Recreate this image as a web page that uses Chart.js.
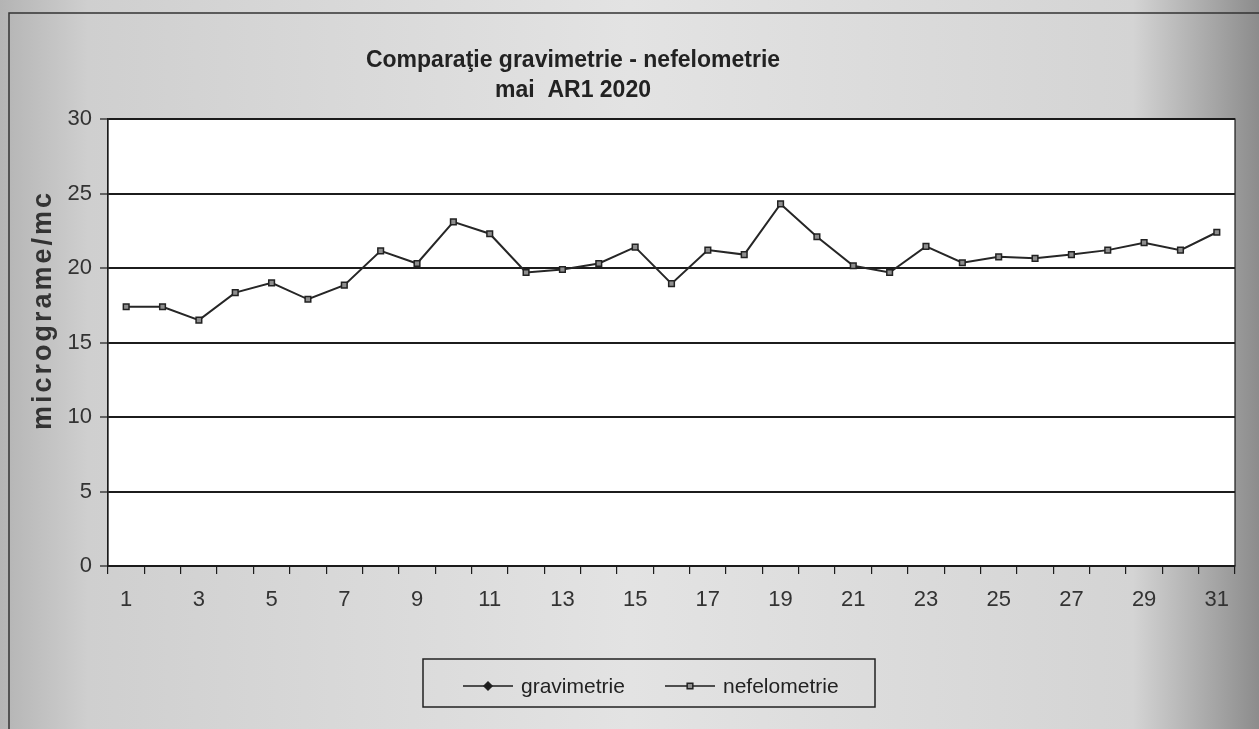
<!DOCTYPE html>
<html>
<head>
<meta charset="utf-8">
<script src="https://cdn.jsdelivr.net/npm/chart.js@4/dist/chart.umd.min.js"></script>
<style>
  html, body { margin: 0; padding: 0; background: #e6e6e6; }
  #wrap { width: 1259px; height: 729px; }
</style>
</head>
<body>
<div id="wrap"><canvas id="chart" width="1259" height="729"></canvas></div>
<script>
// data
const days = ['1','2','3','4','5','6','7','8','9','10','11','12','13','14','15','16',
              '17','18','19','20','21','22','23','24','25','26','27','28','29','30','31'];
const gravimetrie = [];
const nefelometrie = [17.4, 17.4, 16.5, 18.35, 19.0, 17.9, 18.85, 21.15, 20.3, 23.1, 22.3,
                      19.7, 19.9, 20.3, 21.4, 18.95, 21.2, 20.9, 24.3, 22.1, 20.15, 19.7,
                      21.45, 20.35, 20.75, 20.65, 20.9, 21.2, 21.7, 21.2, 22.4];
const titleLines = ['Comparaţie gravimetrie - nefelometrie', 'mai  AR1 2020'];
const yTitle = 'micrograme/mc';

const ink = '#1c1c1c';
const font = '"Liberation Sans", Arial, sans-serif';

// page look: grey scanned backdrop, white plot area, frame, title, legend
const backdrop = {
    id: 'backdrop',
    beforeDraw(chart) {
        const { ctx, width, height, chartArea: a } = chart;
        ctx.save();
        const g = ctx.createLinearGradient(0, 0, width, 0);
        g.addColorStop(0, '#b4b4b4');
        g.addColorStop(0.07, '#cfcfcf');
        g.addColorStop(0.5, '#e3e3e3');
        g.addColorStop(0.9, '#d4d4d4');
        g.addColorStop(1, '#8c8c8c');
        ctx.fillStyle = g;
        ctx.fillRect(0, 0, width, height);
        ctx.strokeStyle = '#333';
        ctx.lineWidth = 1.5;
        ctx.strokeRect(9, 13, width + 20, height + 20);
        ctx.fillStyle = '#ffffff';
        ctx.fillRect(a.left, a.top, a.right - a.left, a.bottom - a.top);
        ctx.restore();
    },
    afterDraw(chart) {
        const { ctx, chartArea: a } = chart;
        ctx.save();
        ctx.strokeStyle = ink;
        ctx.lineWidth = 1.2;
        ctx.strokeRect(a.left, a.top, a.right - a.left, a.bottom - a.top);

        // title
        ctx.fillStyle = '#222';
        ctx.font = 'bold 23px ' + font;
        ctx.textAlign = 'center';
        ctx.textBaseline = 'middle';
        ctx.fillText(titleLines[0], 573, 61);
        ctx.fillText(titleLines[1], 573, 91);

        // y axis title
        ctx.save();
        ctx.translate(44, 310);
        ctx.rotate(-Math.PI / 2);
        ctx.fillStyle = '#333';
        ctx.font = 'bold 27px ' + font;
        ctx.letterSpacing = '3px';
        ctx.fillText(yTitle, 0, 0);
        ctx.restore();

        // legend box
        ctx.strokeStyle = '#222';
        ctx.lineWidth = 1.5;
        ctx.strokeRect(423, 659, 452, 48);
        ctx.font = '21px ' + font;
        ctx.textAlign = 'left';
        const items = [
            { x: 463, ds: chart.data.datasets[0], fill: ink },
            { x: 665, ds: chart.data.datasets[1], fill: '#8e8e8e' }
        ];
        const ly = 686;
        items.forEach(it => {
            ctx.strokeStyle = ink;
            ctx.lineWidth = 1.5;
            ctx.beginPath();
            ctx.moveTo(it.x, ly);
            ctx.lineTo(it.x + 50, ly);
            ctx.stroke();
            ctx.fillStyle = it.fill;
            ctx.strokeStyle = '#222';
            Chart.helpers.drawPoint(ctx, {
                pointStyle: it.ds.pointStyle,
                radius: it.ds.pointRadius,
                borderWidth: 1
            }, it.x + 25, ly);
            ctx.fillStyle = '#222';
            ctx.fillText(it.ds.label, it.x + 58, ly + 1);
        });
        ctx.restore();
    }
};

new Chart(document.getElementById('chart'), {
    type: 'line',
    data: {
        labels: days,
        datasets: [{
            label: 'gravimetrie',
            data: gravimetrie,
            borderColor: ink,
            backgroundColor: ink,
            borderWidth: 2,
            pointStyle: 'rectRot',
            pointRadius: 4
        }, {
            label: 'nefelometrie',
            data: nefelometrie,
            borderColor: '#262626',
            backgroundColor: '#8e8e8e',
            borderWidth: 2,
            tension: 0,
            pointStyle: 'rect',
            pointRadius: 4,
            pointBorderColor: '#222',
            pointBorderWidth: 1.5
        }]
    },
    options: {
        responsive: false,
        animation: false,
        layout: { padding: { top: 119, right: 24, bottom: 103, left: 10 } },
        plugins: {
            legend: { display: false },
            title: { display: false },
            tooltip: { enabled: false }
        },
        scales: {
            x: {
                offset: true,
                grid: { drawOnChartArea: false, offset: true, tickLength: 8, color: ink, lineWidth: 1.2 },
                border: { color: ink, width: 1.2 },
                ticks: {
                    autoSkip: false,
                    maxRotation: 0,
                    padding: 13,
                    color: '#333',
                    font: { family: font, size: 22 },
                    callback: (v, i) => (i % 2 === 0 ? days[i] : '')
                },
                afterFit: s => { s.height = 60; }
            },
            y: {
                min: 0,
                max: 30,
                ticks: {
                    stepSize: 5,
                    padding: 8,
                    color: '#333',
                    font: { family: font, size: 22 }
                },
                grid: { color: ink, lineWidth: 2, tickLength: 8, tickColor: ink, tickWidth: 1.2 },
                border: { color: ink, width: 1.2 },
                afterFit: s => { s.width = 98; }
            }
        }
    },
    plugins: [backdrop]
});
</script>
</body>
</html>
